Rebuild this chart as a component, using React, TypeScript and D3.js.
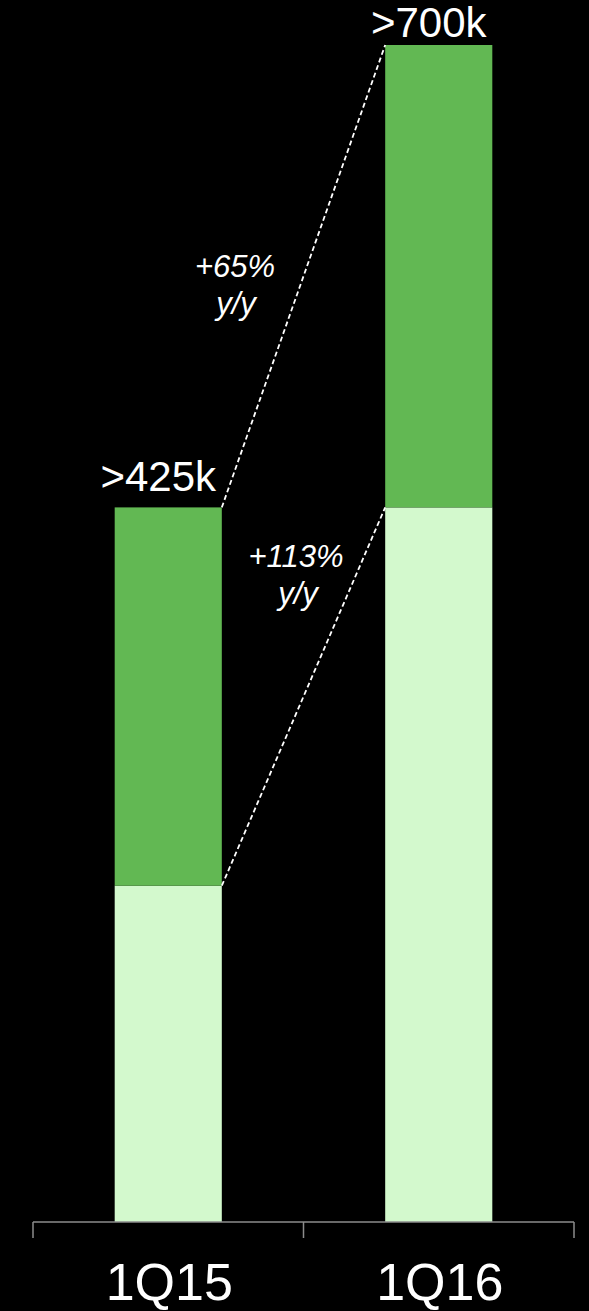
import React from "react";
import * as d3 from "d3";

const categories = ["1Q15", "1Q16"];
const baseValues = [200, 425];
const topValues = [225, 275];
const totalLabels = [">425k", ">700k"];
const growthLabels = ["+113%", "+65%"];

const W = 589;
const H = 1311;

export default function App() {
  const x = d3.scaleBand<string>().domain(categories).range([33, 574]).padding(0);
  const y = d3.scaleLinear().domain([0, 700]).range([1222, 45]);
  const barW = x.bandwidth() * 0.396;
  const bx = (c: string) => (x(c) as number) + x.bandwidth() / 2 - barW / 2;
  const cx = (c: string) => (x(c) as number) + x.bandwidth() / 2;
  const totals = baseValues.map((b, i) => b + topValues[i]);
  const font = "'Liberation Sans', Arial, sans-serif";

  const line = d3.line<[number, number]>();
  const x1 = bx(categories[0]) + barW;
  const x2 = bx(categories[1]);
  const conn1 = line([[x1, y(baseValues[0])], [x2, y(baseValues[1])]]);
  const conn2 = line([[x1, y(totals[0])], [x2, y(totals[1])]]);

  return (
    <svg width={W} height={H} style={{ position: "absolute", left: 0, top: 0, background: "#000" }}>
      <rect x={0} y={0} width={W} height={H} fill="#000" />
      {categories.map((c, i) => (
        <g key={c}>
          <rect x={bx(c)} y={y(baseValues[i])} width={barW} height={y(0) - y(baseValues[i])} fill="#d3f9cd" />
          <rect x={bx(c)} y={y(totals[i])} width={barW} height={y(baseValues[i]) - y(totals[i])} fill="#62b853" />
          <text x={cx(c) - 10} y={Math.max(y(totals[i]) - 16, 37)} fill="#fff" fontSize={42} fontFamily={font} textAnchor="middle">
            {totalLabels[i]}
          </text>
          <text x={cx(c) + 1} y={1300} fill="#fff" fontSize={52} fontFamily={font} textAnchor="middle">
            {c}
          </text>
        </g>
      ))}
      <path d={conn1 || ""} stroke="#fff" strokeWidth={1.8} strokeDasharray="5,3" fill="none" />
      <path d={conn2 || ""} stroke="#fff" strokeWidth={1.8} strokeDasharray="5,3" fill="none" />
      <g fill="#fff" fontFamily={font} fontStyle="italic" fontSize={31} textAnchor="middle">
        <text x={296} y={567}>{growthLabels[0]}</text>
        <text x={298} y={604}>y/y</text>
        <text x={235} y={277}>{growthLabels[1]}</text>
        <text x={236} y={314}>y/y</text>
      </g>
      <g stroke="#8c8c8c" strokeWidth={1.5} fill="none">
        <line x1={33} x2={574} y1={1222} y2={1222} />
        {[33, ...categories.map((c) => (x(c) as number) + x.bandwidth())].map((t, i) => (
          <line key={i} x1={t} x2={t} y1={1222} y2={1238} />
        ))}
      </g>
    </svg>
  );
}
